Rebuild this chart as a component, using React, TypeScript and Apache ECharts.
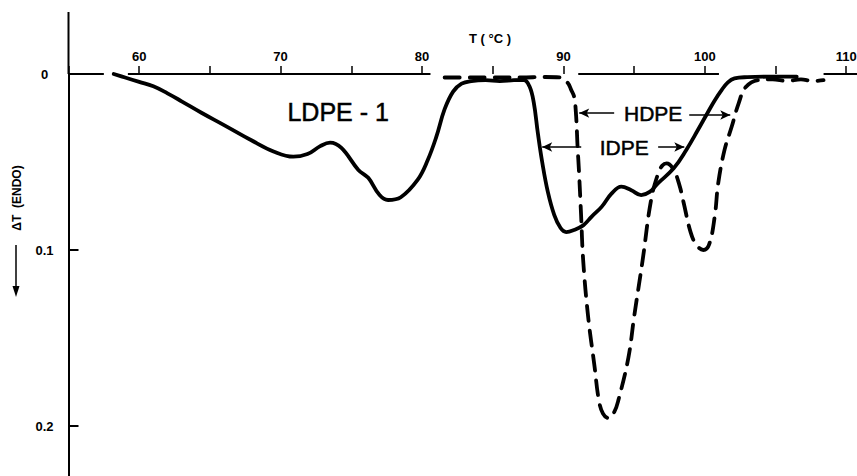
import React, { useEffect, useRef } from "react";
import * as echarts from "echarts";

// ---- data ----
const xTickLabels = [60, 70, 80, 90, 100, 110];
const yTickLabels = [0, 0.1, 0.2];

// LDPE-1 (solid) : temperature (°C), ΔT (endo, downward)
const ldpeT = [58.2, 59.0, 60.0, 61.0, 62.0, 63.0, 64.4, 66.0, 67.9, 69.5, 70.9, 71.9, 72.8, 73.5, 74.3, 75.5, 76.2, 77.0, 77.6, 78.5, 79.7, 80.4, 81.0, 81.6, 82.2, 82.8, 83.5, 84.5, 85.5, 86.5, 87.2, 87.6, 87.9, 88.2, 88.5, 88.9, 89.35, 89.8, 90.2, 90.7, 91.4, 92.0, 92.7, 93.4, 94.1, 94.8, 95.5, 96.1, 96.7, 97.8, 98.7, 99.5, 100.2, 100.7, 101.2, 101.6, 102.1, 103.0, 104.9, 106.5];
const ldpeV = [0.0, 0.002, 0.0045, 0.007, 0.011, 0.0155, 0.022, 0.029, 0.0375, 0.044, 0.047, 0.0455, 0.041, 0.039, 0.042, 0.0545, 0.059, 0.0688, 0.0716, 0.070, 0.060, 0.049, 0.036, 0.02, 0.01, 0.0055, 0.004, 0.0035, 0.004, 0.0035, 0.0034, 0.007, 0.016, 0.034, 0.05, 0.067, 0.080, 0.0875, 0.0898, 0.0888, 0.086, 0.081, 0.0755, 0.068, 0.064, 0.066, 0.0688, 0.067, 0.062, 0.0536, 0.043, 0.032, 0.022, 0.015, 0.009, 0.005, 0.0025, 0.0018, 0.0015, 0.0015];

// HDPE / IDPE (dashed)
const hdpeT = [81.6, 83.0, 85.0, 87.0, 88.7, 89.8, 90.3, 90.55, 90.76, 90.9, 91.0, 91.1, 91.25, 91.4, 91.75, 92.2, 92.5, 92.8, 93.2, 93.6, 93.9, 94.6, 95.0, 95.6, 96.2, 96.7, 97.0, 97.3, 97.8, 98.2, 98.5, 99.0, 99.4, 99.9, 100.3, 100.7, 100.95, 101.4, 101.9, 102.4, 102.9, 103.8, 104.8, 105.8, 106.8, 107.6, 108.4];
const hdpeV = [0.002, 0.002, 0.002, 0.002, 0.0017, 0.002, 0.005, 0.009, 0.013, 0.024, 0.041, 0.055, 0.08, 0.106, 0.138, 0.166, 0.185, 0.193, 0.1955, 0.192, 0.185, 0.161, 0.138, 0.106, 0.0716, 0.0565, 0.052, 0.0508, 0.0545, 0.063, 0.073, 0.090, 0.097, 0.1, 0.097, 0.081, 0.062, 0.043, 0.030, 0.0165, 0.0074, 0.0034, 0.003, 0.004, 0.003, 0.004, 0.0035];

// visible pieces of the zero line (°C)
const baselineStarts = [55, 59.2, 91.05, 108.4];
const baselineEnds = [57.5, 80.6, 101.0, 111.5];

// annotation texts and their anchor in data units
const noteTexts = ["LDPE - 1", "HDPE", "IDPE"];
const noteT = [74.07, 96.35, 94.3];
const noteV = [0.0216, 0.0227, 0.0415];

// arrows: from / to temperature at a given ΔT
const arrowFromT = [93.59, 98.9, 91.26, 96.7];
const arrowToT = [91.12, 101.8, 88.5, 98.55];
const arrowV = [0.0222, 0.0233, 0.0415, 0.0415];

const FONT = "'Liberation Sans', Arial, Helvetica, sans-serif";

export default function App() {
  const ref = useRef<HTMLDivElement>(null);

  useEffect(() => {
    if (!ref.current) return;
    const chart = echarts.init(ref.current, null, { renderer: "svg" });

    const ldpeData = ldpeT.map((t, i) => [t, ldpeV[i]]);
    const hdpeData = hdpeT.map((t, i) => [t, hdpeV[i]]);
    const baseData: any[] = [];
    baselineStarts.forEach((s, i) => {
      if (i > 0) baseData.push([(s + baselineEnds[i - 1]) / 2, "-"]);
      baseData.push([s, 0]);
      baseData.push([baselineEnds[i], 0]);
    });
    const arrowData = arrowFromT.map((f, i) => [
      { coord: [f, arrowV[i]] },
      { coord: [arrowToT[i], arrowV[i]] },
    ]);

    const xMin = 55;
    const xMax = 111.5;
    const pxPerDeg = 14.14;
    const yMax = 0.24;
    const pxPerUnit = 1760;

    const fixedGraphics: any[] = [
      {
        type: "line",
        shape: { x1: 68.5, y1: 12, x2: 68.5, y2: 74 },
        style: { stroke: "#000", lineWidth: 2 },
        silent: true,
      },
      {
        type: "text",
        x: 490,
        y: 38,
        style: {
          text: "T ( °C )",
          fill: "#000",
          font: `bold 13px ${FONT}`,
          align: "center",
          verticalAlign: "middle",
        },
      },
      {
        type: "text",
        x: 17,
        y: 198,
        rotation: Math.PI / 2,
        style: {
          text: "ΔT  (ENDO)",
          fill: "#000",
          font: `bold 12px ${FONT}`,
          align: "center",
          verticalAlign: "middle",
        },
      },
      {
        type: "line",
        shape: { x1: 16, y1: 245, x2: 16, y2: 290 },
        style: { stroke: "#000", lineWidth: 1.5 },
      },
      {
        type: "polygon",
        shape: { points: [[12.5, 286], [19.5, 286], [16, 297]] },
        style: { fill: "#000" },
      },
    ];

    chart.setOption({
      animation: false,
      backgroundColor: "#ffffff",
      grid: {
        left: 68.5,
        top: 74,
        width: (xMax - xMin) * pxPerDeg,
        height: yMax * pxPerUnit,
      },
      xAxis: {
        type: "value",
        position: "top",
        min: xMin,
        max: xMax,
        interval: 5,
        axisLine: { show: false },
        axisTick: { show: true, inside: false, length: 8, lineStyle: { color: "#000", width: 1.5 } },
        axisLabel: {
          color: "#000",
          fontWeight: "bold",
          fontSize: 13,
          fontFamily: FONT,
          margin: 11,
          formatter: (v: number) => {
            const r = Math.round(v);
            return Math.abs(v - r) < 1e-6 && xTickLabels.includes(r) ? String(r) : "";
          },
        },
        splitLine: { show: false },
      },
      yAxis: {
        type: "value",
        inverse: true,
        min: 0,
        max: yMax,
        interval: 0.1,
        axisLine: { show: true, lineStyle: { color: "#000", width: 2 } },
        axisTick: { show: true, inside: true, length: 10, lineStyle: { color: "#000", width: 2 } },
        axisLabel: {
          color: "#000",
          fontWeight: "bold",
          fontSize: 13,
          fontFamily: FONT,
          align: "center",
          margin: 24,
          formatter: (v: number) => {
            const hit = yTickLabels.find((t) => Math.abs(t - v) < 1e-6);
            return hit === undefined ? "" : String(hit);
          },
        },
        splitLine: { show: false },
      },
      series: [
        {
          name: "baseline",
          type: "line",
          data: baseData,
          showSymbol: false,
          connectNulls: false,
          silent: true,
          clip: false,
          lineStyle: { color: "#000", width: 2 },
          markLine: {
            silent: true,
            symbol: ["none", "arrow"],
            symbolSize: [7, 10],
            label: { show: false },
            lineStyle: { color: "#000", width: 1.5, type: "solid" },
            data: arrowData,
          },
        },
        {
          name: "LDPE - 1",
          type: "line",
          data: ldpeData,
          showSymbol: false,
          smooth: 0.4,
          clip: false,
          lineStyle: { color: "#000", width: 3.8, cap: "round", join: "round" },
        },
        {
          name: "HDPE",
          type: "line",
          data: hdpeData,
          showSymbol: false,
          smooth: 0.4,
          clip: false,
          lineStyle: { color: "#000", width: 3.8, type: [15, 10], cap: "round", join: "round" },
        },
      ],
      graphic: fixedGraphics,
    });

    const noteSizes = [25, 21, 21];
    const noteGraphics = noteTexts.map((txt, i) => {
      const p = chart.convertToPixel({ gridIndex: 0 }, [noteT[i], noteV[i]]) as number[];
      return {
        type: "text",
        x: p[0],
        y: p[1],
        silent: true,
        style: {
          text: txt,
          fill: "#000",
          font: `${noteSizes[i]}px ${FONT}`,
          align: "center",
          verticalAlign: "middle",
          stroke: "#000",
          lineWidth: 0.5,
        },
      };
    });
    chart.setOption({ graphic: [...fixedGraphics, ...noteGraphics] });

    return () => chart.dispose();
  }, []);

  return (
    <div
      style={{
        position: "absolute",
        left: 0,
        top: 0,
        width: 857,
        height: 476,
        overflow: "hidden",
        background: "#fff",
      }}
    >
      <div ref={ref} style={{ width: 900, height: 520 }} />
    </div>
  );
}
